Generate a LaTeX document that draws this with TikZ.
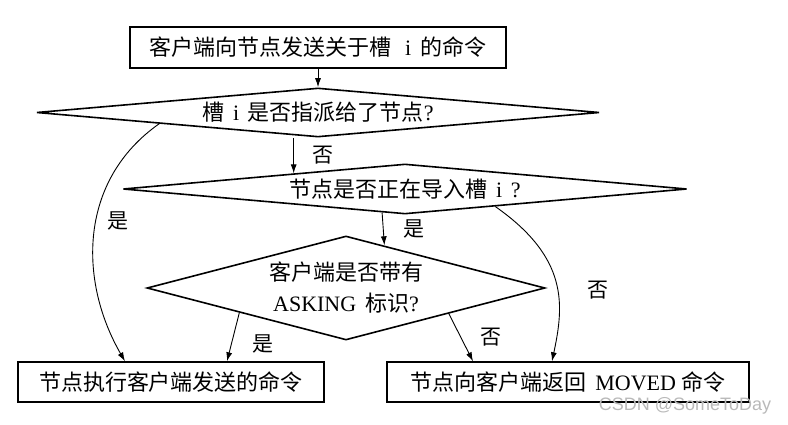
\documentclass[tikz,border=0pt]{standalone}
\usepackage{fontspec}
\setmainfont{Liberation Serif}
\newfontfamily\zh{Noto Sans CJK SC}
\newfontfamily\wm{Liberation Sans}
\usetikzlibrary{positioning, arrows.meta, shapes.geometric}
\newcommand{\en}[1]{{\rmfamily #1}}
\tikzset{
    cmdbox/.style={rectangle, draw, line width=1.4pt, inner sep=0pt, font=\zh\fontsize{22}{30}\selectfont},
    decision/.style={diamond, draw, line width=1.6pt, inner sep=0pt, align=center, font=\zh\fontsize{22}{31}\selectfont},
    flow/.style={-{Latex[length=9pt,width=6pt]}, line width=0.9pt},
    answer/.style={font=\zh\fontsize{21}{26}\selectfont},
}

\begin{document}
\begin{tikzpicture}[x=1pt, y=1pt]
    \useasboundingbox (0,0) rectangle (788,-425);

    % --- Richiesta del client ---
    \node[cmdbox, minimum width=376pt, minimum height=41pt] (request) at (318,-47.5) {客户端向节点发送关于槽\hspace{0.6em}\en{i}\hspace{0.4em}的命令};

    % --- Decisioni (rombi) ---
    \node[decision, minimum width=563pt, minimum height=49pt, aspect=11.5] (assigned) at (318,-112.5) {槽\hspace{0.4em}\en{i}\hspace{0.4em}是否指派给了节点\en{?}};
    \node[decision, minimum width=564pt, minimum height=50pt, aspect=11.3] (importing) at (405,-189) {节点是否正在导入槽\hspace{0.4em}\en{i}\hspace{0.4em}\en{?}};
    \node[decision, minimum width=398pt, minimum height=104pt, aspect=3.8] (asking) at (346,-288) {客户端是否带有\\\en{ASKING}\hspace{0.4em}标识\en{?}};

    % --- Esiti ---
    \node[cmdbox, minimum width=306pt, minimum height=40pt] (execute) at (171,-382) {节点执行客户端发送的命令};
    \node[cmdbox, minimum width=362pt, minimum height=40pt] (moved) at (568,-382) {节点向客户端返回\hspace{0.4em}\en{MOVED}\hspace{0.25em}命令};

    % --- Frecce ---
    \draw[flow] (request.south) -- (assigned.north);
    \draw[flow] (assigned.south -| importing.172.7) -- (importing.172.7)
        node[answer, midway, right=15pt] {否};
    \draw[flow] (importing.226.3) -- (asking.48.8)
        node[answer, midway, right=16pt] {是};
    \draw[flow] (asking.193.3) -- ([xshift=56pt]execute.north)
        node[answer, pos=0.65, right=17pt] {是};
    \draw[flow] (asking.346.5) -- ([xshift=-95pt]moved.north)
        node[answer, pos=0.49, right=16pt] {否};

    % archi lunghi
    \draw[flow] (assigned.184) .. controls +(215:99) and +(120:93) .. ([xshift=-46pt]execute.north)
        node[answer, pos=0.45, right=8pt] {是};
    \draw[flow] (importing.349.9) .. controls +(325:90) and +(78:57) .. ([xshift=-16pt]moved.north)
        node[answer, pos=0.55, right=26pt] {否};

    % filigrana
    \node[font=\wm\fontsize{18}{20}\selectfont, text=gray!55] (watermark) at (685,-406) {CSDN @SomeToDay};
\end{tikzpicture}
\end{document}
